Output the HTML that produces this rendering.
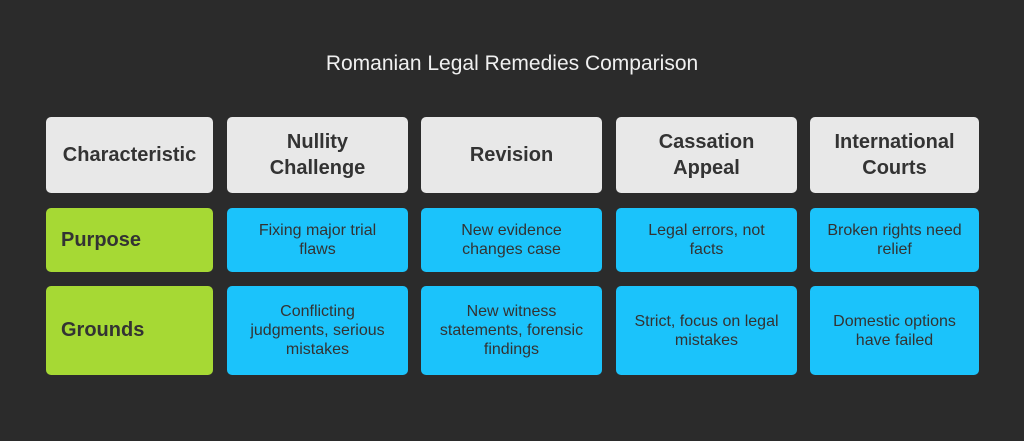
<!DOCTYPE html>
<html><head><meta charset="utf-8"><style>
body{margin:0;width:1024px;height:441px;background:#2b2b2b;font-family:"Liberation Sans",sans-serif;position:relative;overflow:hidden}
.t{position:absolute;top:52px;left:0;width:1024px;text-align:center;color:#f0f0f0;font-size:21px}
.b{position:absolute;border-radius:5px;display:flex;align-items:center;justify-content:center;text-align:center;color:#333;box-sizing:border-box;padding:0 8px}
.h{background:#e8e8e8;font-weight:bold;font-size:20px;line-height:26px;top:117px;height:76px}
.g{background:#a6d934;font-weight:bold;font-size:20px;justify-content:flex-start;padding-left:15px}
.c{background:#1bc3fb;font-size:16px;line-height:19px}
.r1{top:208px;height:64px}.r2{top:286px;height:89px}
</style></head><body>
<div class="t">Romanian Legal Remedies Comparison</div>
<div class="b h" style="left:46px;width:167px">Characteristic</div>
<div class="b h" style="left:227px;width:181px">Nullity<br>Challenge</div>
<div class="b h" style="left:421px;width:181px">Revision</div>
<div class="b h" style="left:616px;width:181px">Cassation<br>Appeal</div>
<div class="b h" style="left:810px;width:169px">International<br>Courts</div>
<div class="b g r1" style="left:46px;width:167px">Purpose</div>
<div class="b c r1" style="left:227px;width:181px">Fixing major trial<br>flaws</div>
<div class="b c r1" style="left:421px;width:181px">New evidence<br>changes case</div>
<div class="b c r1" style="left:616px;width:181px">Legal errors, not<br>facts</div>
<div class="b c r1" style="left:810px;width:169px">Broken rights need<br>relief</div>
<div class="b g r2" style="left:46px;width:167px">Grounds</div>
<div class="b c r2" style="left:227px;width:181px">Conflicting<br>judgments, serious<br>mistakes</div>
<div class="b c r2" style="left:421px;width:181px">New witness<br>statements, forensic<br>findings</div>
<div class="b c r2" style="left:616px;width:181px">Strict, focus on legal<br>mistakes</div>
<div class="b c r2" style="left:810px;width:169px">Domestic options<br>have failed</div>
</body></html>
